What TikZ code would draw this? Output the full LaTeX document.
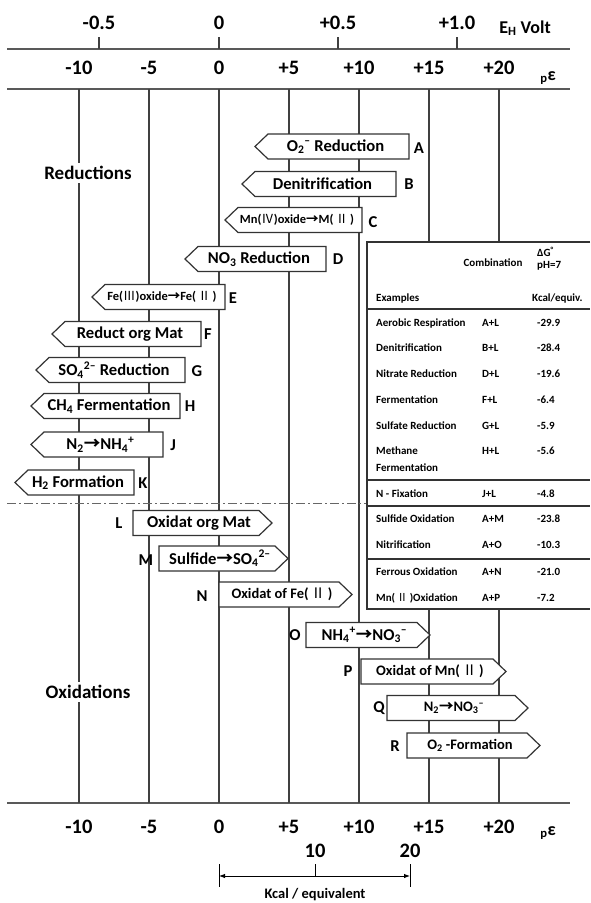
\documentclass[tikz,border=0pt]{standalone}
\usepackage{fontspec}
\setmainfont{Carlito}
\newfontfamily\cjk{Noto Sans CJK SC}
\usetikzlibrary{arrows.meta}
\newcommand\rn[1]{{\cjk\mdseries #1}}
\newcommand\rnii{\,{\cjk\mdseries Ⅱ}\,}
\newcommand\arr{{\cjk →}}
\newcommand\sbsp[2]{\textsubscript{#1}\textsuperscript{#2}}
\newcommand\redbox[6]{%
  \draw[boxline] (#2,#4) -- ({#2+13},{#4-12.5}) -- (#3,{#4-12.5}) -- (#3,{#4+12.5}) -- ({#2+13},{#4+12.5}) -- cycle;
  \node[#6] (#1) at ({(#2+7+#3)/2},#4) {#5};}
\newcommand\oxbox[6]{%
  \draw[boxline] (#2,{#4-12.5}) -- ({#3-13},{#4-12.5}) -- (#3,#4) -- ({#3-13},{#4+12.5}) -- (#2,{#4+12.5}) -- cycle;
  \node[#6] (#1) at ({(#2+#3-7)/2},#4) {#5};}
\begin{document}
\begin{tikzpicture}[x=1pt,y=-1pt,
  vline/.style={line width=1.1pt, draw=black!75},
  axline/.style={line width=1.6pt, draw=black!65},
  boxline/.style={line width=1.2pt, draw=black!80, fill=white, line join=miter},
  ax/.style={font=\fontsize{20.5}{24}\selectfont\bfseries, inner sep=0pt},
  bt/.style={font=\fontsize{16.6}{19}\selectfont\bfseries, inner sep=0pt},
  mt/.style={font=\fontsize{14.5}{17}\selectfont\bfseries, inner sep=0pt},
  st/.style={font=\fontsize{12.5}{15}\selectfont\bfseries, inner sep=0pt},
  tb/.style={font=\fontsize{11}{13}\selectfont\bfseries, inner sep=0pt, anchor=west},
  lab/.style={font=\fontsize{16.6}{19}\selectfont\bfseries, inner sep=0pt},
  big/.style={font=\fontsize{19}{22}\selectfont\bfseries, fill=white, inner sep=3pt},
  unit/.style={font=\fontsize{18}{21}\selectfont\bfseries, inner sep=0pt},
  tline/.style={line width=1.2pt, draw=black!80},
]
\useasboundingbox (0,0) rectangle (590,903);
\fill[white] (0,0) rectangle (590,903);

% ---- top E_H axis
\draw[axline] (7,49) -- (570,49);
\foreach \x/\t/\n in {99/-0.5/ea, 219/0/eb, 338/+0.5/ec, 457/+1.0/ed} {
  \draw[vline] (\x,37) -- (\x,49);
  \node[ax] (\n) at (\x,23) {\t};
}
\node[unit] (eh) at (525,28) {E\textsubscript{H} Volt};

% ---- p epsilon axes
\draw[axline] (7,89) -- (570,89);
\draw[axline] (7,803) -- (570,803);
\foreach \v/\t/\n in {-10/-10/a,-5/-5/b,0/0/c,5/+5/d,10/+10/e,15/+15/f,20/+20/g} {
  \node[ax] (top\n) at ({219+14*\v},68) {\t};
  \node[ax] (bot\n) at ({219+14*\v},827) {\t};
}
\node[unit] (pet) at (548,78) {\textsubscript{p}ε};
\node[unit] (peb) at (548,833) {\textsubscript{p}ε};

% ---- vertical grid lines
\foreach \v in {-10,-5,0,5,10}
  \draw[vline] ({219+14*\v},89) -- ({219+14*\v},803);
\foreach \v in {15,20} {
  \draw[vline] ({219+14*\v},89) -- ({219+14*\v},242);
  \draw[vline] ({219+14*\v},609) -- ({219+14*\v},803);
}

% ---- section labels
\node[big] (red) at (88,173) {Reductions};
\node[big] (oxi) at (88,692) {Oxidations};

% ---- separator
\draw[line width=1pt, draw=black!60, dash pattern=on 9pt off 3pt on 2pt off 3pt] (7,503) -- (367,503);

% ---- reduction boxes
\redbox{A}{255}{409}{146.5}{O\sbsp{2}{--}\ Reduction}{bt}
\redbox{B}{242}{396}{184}{Denitrification}{bt}
\redbox{C}{225}{362}{220}{Mn(\rn{Ⅳ})oxide\arr M(\rnii)}{st}
\redbox{D}{185}{326}{259}{NO\textsubscript{3} Reduction}{bt}
\redbox{E}{92}{225}{297}{Fe(\rn{Ⅲ})oxide\arr Fe(\rnii)}{st}
\redbox{F}{52}{201}{334}{Reduct org Mat}{bt}
\redbox{G}{36}{185}{370}{SO\sbsp{4}{2--}\ Reduction}{bt}
\redbox{H}{31}{180}{406}{CH\textsubscript{4} Fermentation}{bt}
\redbox{J}{31}{163}{444.5}{N\textsubscript{2}\arr NH\sbsp{4}{+}}{bt}
\redbox{K}{15}{134}{482.5}{H\textsubscript{2} Formation}{bt}

% ---- oxidation boxes
\oxbox{L}{133}{272}{523}{Oxidat org Mat}{bt}
\oxbox{M}{159}{288}{558.5}{Sulfide\arr SO\sbsp{4}{2--}}{bt}
\oxbox{N}{219}{352}{594.5}{Oxidat of Fe(\rnii)}{mt}
\oxbox{O}{306}{430}{635}{NH\sbsp{4}{+}\arr NO\sbsp{3}{--}}{bt}
\oxbox{P}{361}{506}{671.5}{Oxidat of Mn(\rnii)}{mt}
\oxbox{Q}{387}{528}{708}{N\textsubscript{2}\arr NO\sbsp{3}{--}}{mt}
\oxbox{R}{407}{540}{745.5}{O\textsubscript{2} -Formation}{mt}

% ---- letter labels
\foreach \n/\x/\y in {A/419/148, B/409/184, C/373/222, D/338/259, E/233/298,
  F/208/334, G/197/371, H/190/406, J/173/445, K/143/483, L/119/523,
  M/146/560, N/202/596, O/295/635, P/348/671, Q/379/708, R/395/746}
  \node[lab] (lab\n) at (\x,\y) {\n};

% ---- table
\draw[tline] (590,242) -- (367,242) -- (367,609) -- (590,609);
\foreach \y in {309,480,506,559} \draw[tline] (367,\y) -- (590,\y);
\node[tb, anchor=center] (hcomb) at (493,263) {Combination};
\node[tb] (hdg) at (537,252) {ΔG\textsuperscript{°}};
\node[tb] (hph) at (537,266) {pH=7};
\node[tb] (hex) at (376,298) {Examples};
\node[tb] (hkc) at (532,298) {Kcal/equiv.};
\foreach \y/\a/\b/\c/\n in {
  323/Aerobic Respiration/A+L/-29.9/r1,
  348/Denitrification/B+L/-28.4/r2,
  374/Nitrate Reduction/D+L/-19.6/r3,
  400/Fermentation/F+L/-6.4/r4,
  426/Sulfate Reduction/G+L/-5.9/r5,
  451/Methane/H+L/-5.6/r6,
  494/N - Fixation/J+L/-4.8/r7,
  519/Sulfide Oxidation/A+M/-23.8/r8,
  545/Nitrification/A+O/-10.3/r9,
  572/Ferrous Oxidation/A+N/-21.0/r10} {
  \node[tb] (\n a) at (376,\y) {\a};
  \node[tb] (\n b) at (482,\y) {\b};
  \node[tb] (\n c) at (537,\y) {\c};
}
\node[tb] (r6d) at (376,468) {Fermentation};
\node[tb] (r11a) at (376,598) {Mn(\rnii)Oxidation};
\node[tb] (r11b) at (482,598) {A+P};
\node[tb] (r11c) at (537,598) {-7.2};

% ---- energy scale
\node[ax] (k10) at (315,851) {10};
\node[ax] (k20) at (410,851) {20};
\coordinate (d0) at (219,876);
\coordinate (d1) at (410,876);
\coordinate (dm) at (315,876);
\draw[line width=0.9pt] (219,864) -- (219,887);
\draw[line width=0.9pt] (410,864) -- (410,887);
\draw[line width=0.9pt] (315,864) -- (dm);
\draw[line width=0.9pt, {Latex[length=6pt,width=4.5pt]}-{Latex[length=6pt,width=4.5pt]}] (d0) -- (d1);
\node[font=\fontsize{14.5}{17}\selectfont\bfseries, inner sep=0pt] (kcal) at (315,895) {Kcal / equivalent};
\end{tikzpicture}
\end{document}
